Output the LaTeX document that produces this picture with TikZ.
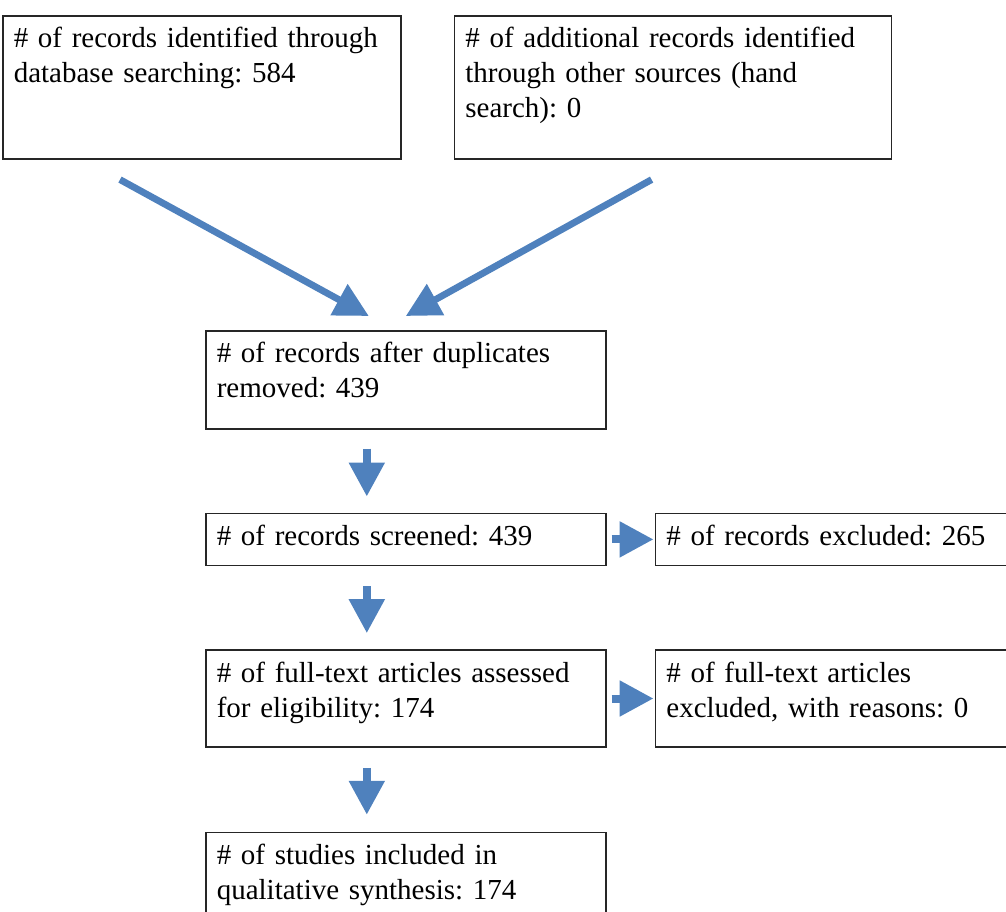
\documentclass[tikz,border=0pt]{standalone}
\usepackage{fontspec}
\setmainfont{Liberation Serif}
\usepackage{tikz}
\usetikzlibrary{positioning,arrows.meta,calc}
\definecolor{arrowblue}{HTML}{4F81BD}
\frenchspacing

\begin{document}
\begin{tikzpicture}[node distance=42pt, auto,
    box/.style={rectangle, draw=black!85, line width=0.8pt, align=left, inner xsep=5.5pt, inner ysep=0pt, text height=16pt, font=\fontsize{14.5}{17.5}\selectfont},
    arrow/.style={line width=4pt, draw=arrowblue, -{Triangle[length=17pt,width=17pt]}}]
    \useasboundingbox (0,0) rectangle (503pt,-455.5pt);
    \clip (0,0) rectangle (503pt,-455.5pt);

    \node[box, anchor=north west, text width=188pt, text depth=55.5pt] (db) at (1pt,-7.5pt) {\# of records identified through\\database searching: 584};
    \node[box, right=26pt of db, text width=207.5pt, text depth=55.5pt] (other) {\# of additional records identified\\through other sources (hand\\search): 0};
    \node[box, anchor=north west, text width=189pt, text depth=33pt] (dup) at (102.5pt,-165pt) {\# of records after duplicates\\removed: 439};
    \node[box, below=41.5pt of dup, text width=189pt, text depth=10pt] (screened) {\# of records screened: 439};
    \node[box, below=41.5pt of screened, text width=189pt, text depth=32.5pt] (fulltext) {\# of full-text articles assessed\\for eligibility: 174};
    \node[box, below=42pt of fulltext, text width=189pt, text depth=32.5pt] (included) {\# of studies included in\\qualitative synthesis: 174};

    % Exclusions
    \node[box, right=24pt of screened, text width=190pt, text depth=10pt] (excl) {\# of records excluded: 265};
    \node[box, right=24pt of fulltext, text width=190pt, text depth=32.5pt] (exclft) {\# of full-text articles\\excluded, with reasons: 0};

    % Merging arrows
    \coordinate (dbtail) at ($(db.south west)+(59pt,-10pt)$);
    \coordinate (othertail) at ($(other.south west)+(99pt,-10pt)$);
    \coordinate (dupleft) at ($(dup.north)+(-18.5pt,7pt)$);
    \coordinate (dupright) at ($(dup.north)+(0pt,7pt)$);
    \draw[arrow, line width=3.4pt] (dbtail) -- (dupleft);
    \draw[arrow, line width=3.4pt] (othertail) -- (dupright);

    \draw[arrow, shorten <=9.5pt, shorten >=8pt] ([xshift=-19.5pt]dup.south) -- ([xshift=-19.5pt]screened.north);
    \draw[arrow, shorten <=10pt, shorten >=8pt] ([xshift=-19.5pt]screened.south) -- ([xshift=-19.5pt]fulltext.north);
    \draw[arrow, shorten <=10pt, shorten >=8.5pt] ([xshift=-19.5pt]fulltext.south) -- ([xshift=-19.5pt]included.north);
    \draw[arrow, shorten <=2.5pt, shorten >=0.5pt] (screened) -- (excl);
    \draw[arrow, shorten <=2.5pt, shorten >=0.5pt] (fulltext) -- (exclft);
\end{tikzpicture}
\end{document}
